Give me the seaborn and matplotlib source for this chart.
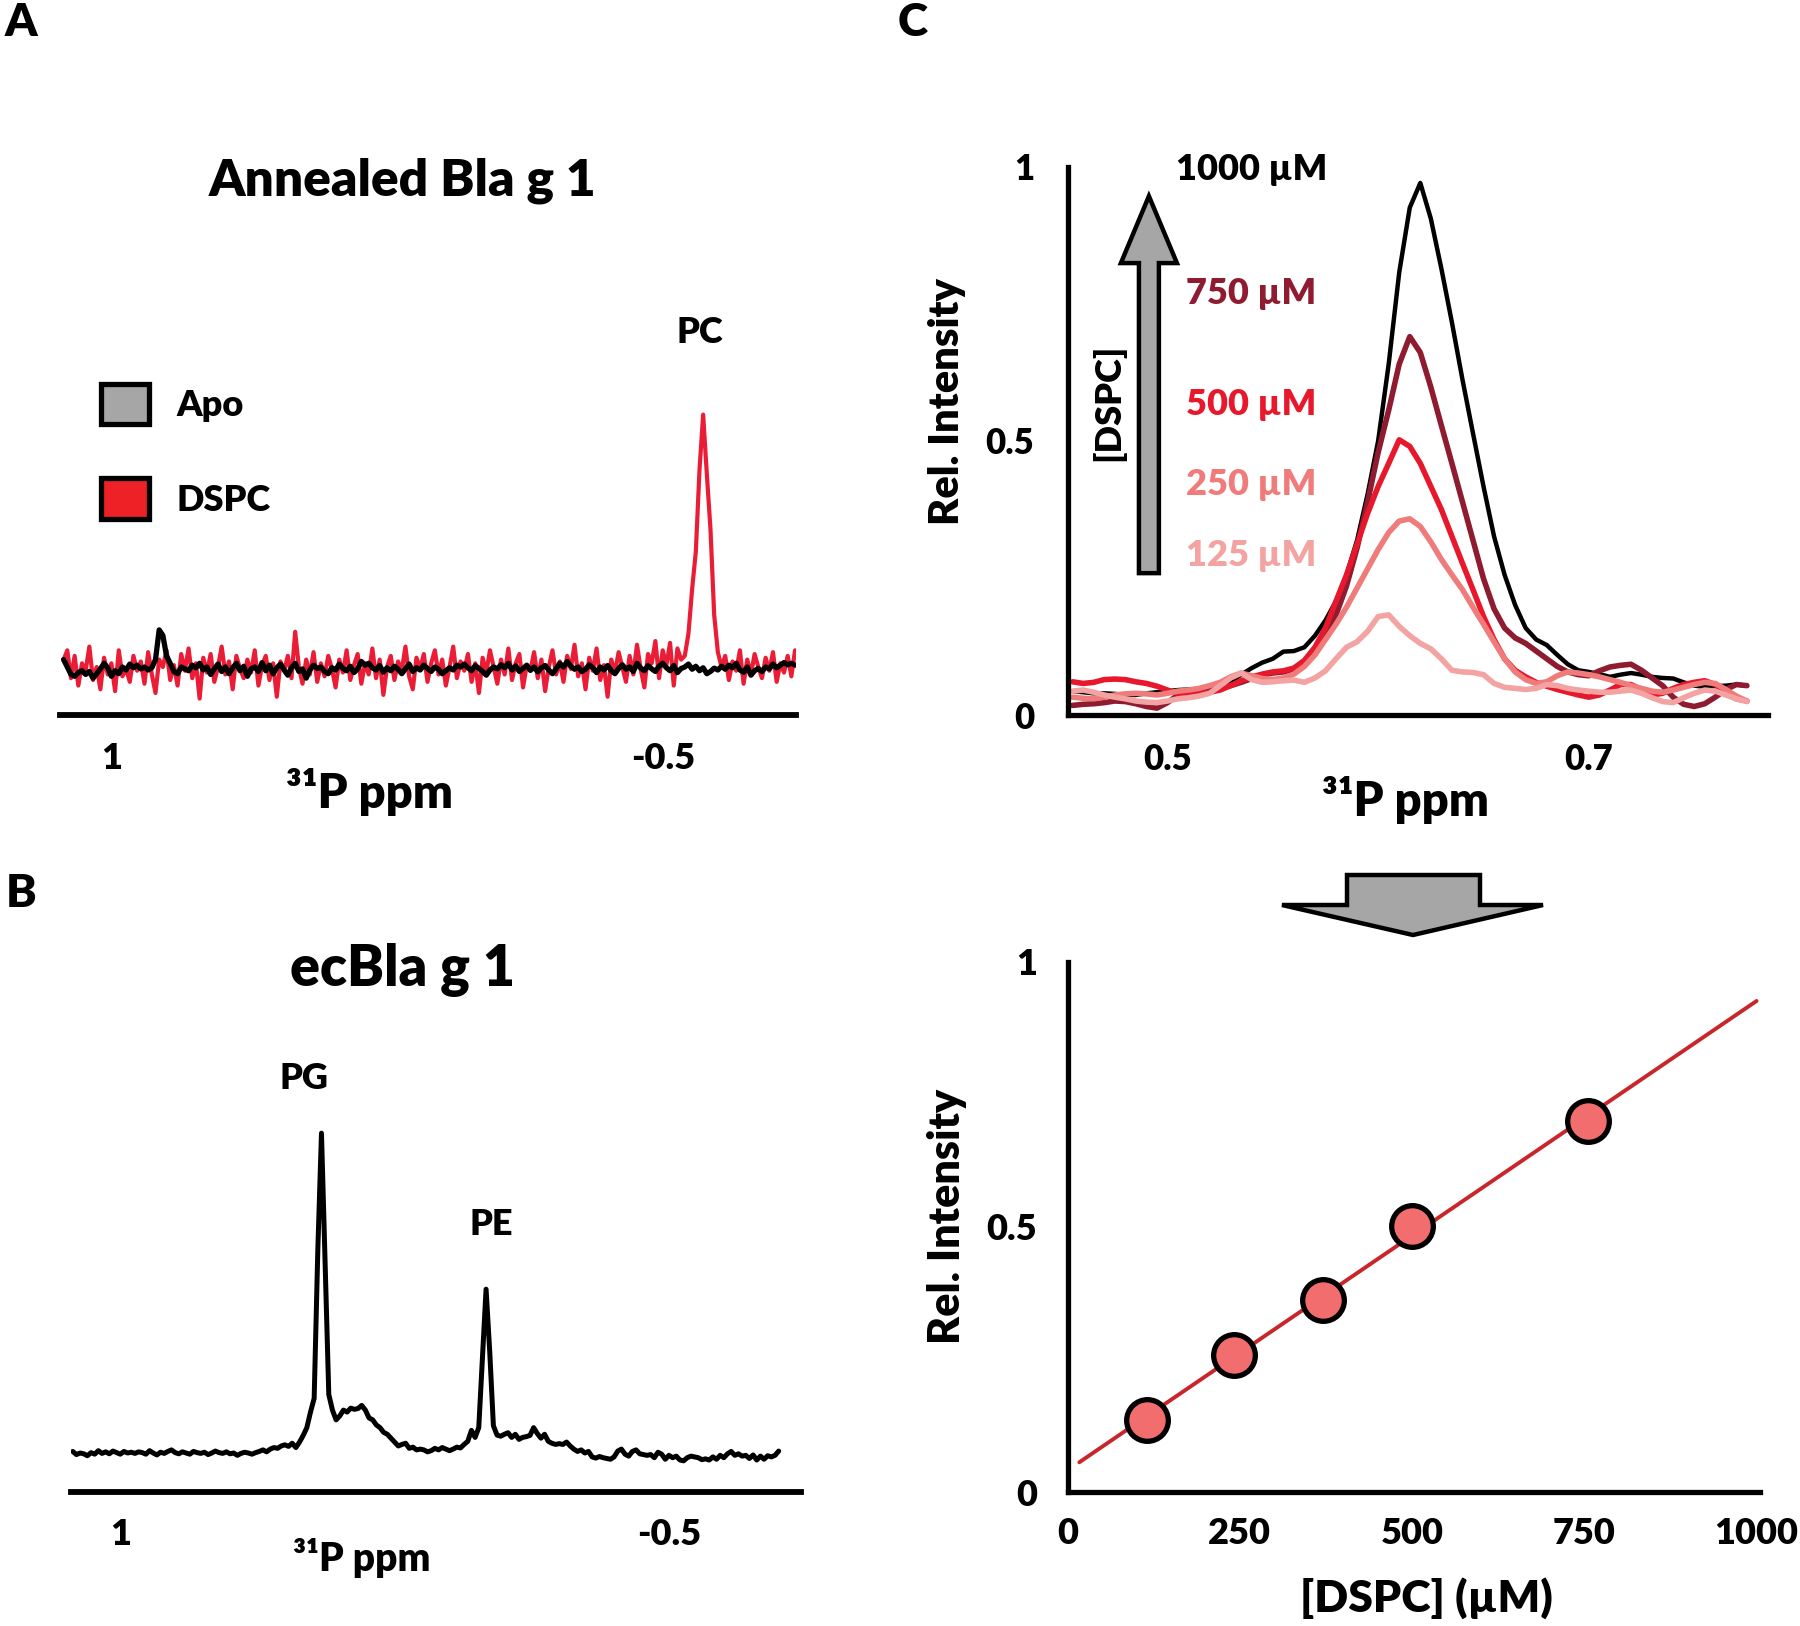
import numpy as np
import matplotlib
matplotlib.use('Agg')
import matplotlib.pyplot as plt
from matplotlib.patches import Patch, Polygon
import seaborn as sns

# ---------------- Panel A: Annealed Bla g 1 (31P, 1.13 -> -0.86 ppm, step 0.01)
apo_a = [
    0.150, 0.130, 0.110, 0.105, 0.115, 0.120, 0.110, 0.118, 0.100, 0.112,
    0.125, 0.140, 0.128, 0.105, 0.120, 0.112, 0.130, 0.122, 0.138, 0.128,
    0.135, 0.125, 0.130, 0.122, 0.128, 0.150, 0.230, 0.215, 0.160, 0.140,
    0.118, 0.112, 0.130, 0.125, 0.120, 0.135, 0.128, 0.140, 0.122, 0.130,
    0.110, 0.125, 0.138, 0.118, 0.130, 0.112, 0.128, 0.140, 0.120, 0.132,
    0.105, 0.125, 0.130, 0.118, 0.142, 0.120, 0.135, 0.112, 0.128, 0.138,
    0.122, 0.108, 0.128, 0.140, 0.118, 0.125, 0.100, 0.122, 0.135, 0.126,
    0.130, 0.118, 0.112, 0.128, 0.122, 0.138, 0.126, 0.120, 0.132, 0.115,
    0.125, 0.145, 0.135, 0.140, 0.128, 0.122, 0.134, 0.116, 0.128, 0.120,
    0.132, 0.124, 0.112, 0.125, 0.138, 0.118, 0.128, 0.122, 0.135, 0.126,
    0.118, 0.130, 0.124, 0.112, 0.120, 0.128, 0.122, 0.135, 0.130, 0.138,
    0.128, 0.120, 0.134, 0.126, 0.118, 0.108, 0.122, 0.130, 0.125, 0.136,
    0.128, 0.140, 0.122, 0.133, 0.118, 0.126, 0.135, 0.121, 0.130, 0.117,
    0.128, 0.134, 0.122, 0.112, 0.125, 0.140, 0.130, 0.145, 0.132, 0.124,
    0.130, 0.118, 0.124, 0.136, 0.128, 0.115, 0.130, 0.122, 0.134, 0.120,
    0.112, 0.126, 0.136, 0.124, 0.130, 0.118, 0.140, 0.127, 0.120, 0.134,
    0.125, 0.118, 0.132, 0.140, 0.128, 0.120, 0.134, 0.115, 0.126, 0.130,
    0.138, 0.124, 0.132, 0.120, 0.128, 0.112, 0.118, 0.127, 0.122, 0.132,
    0.124, 0.135, 0.128, 0.140, 0.122, 0.116, 0.130, 0.108, 0.120, 0.126,
    0.118, 0.130, 0.125, 0.138, 0.128, 0.135, 0.142, 0.136, 0.140, 0.135,
]
dspc_a = [
    0.150, 0.175, 0.100, 0.160, 0.080, 0.140, 0.120, 0.185, 0.095, 0.130,
    0.070, 0.155, 0.110, 0.140, 0.065, 0.175, 0.105, 0.125, 0.090, 0.160,
    0.120, 0.145, 0.085, 0.170, 0.110, 0.060, 0.150, 0.130, 0.175, 0.095,
    0.135, 0.080, 0.165, 0.120, 0.180, 0.100, 0.140, 0.045, 0.155, 0.115,
    0.165, 0.090, 0.130, 0.185, 0.110, 0.145, 0.070, 0.160, 0.125, 0.100,
    0.150, 0.115, 0.175, 0.080, 0.135, 0.160, 0.095, 0.140, 0.050, 0.145,
    0.120, 0.160, 0.100, 0.225, 0.130, 0.085, 0.150, 0.110, 0.170, 0.090,
    0.140, 0.105, 0.160, 0.125, 0.075, 0.150, 0.115, 0.175, 0.095, 0.135,
    0.165, 0.085, 0.140, 0.110, 0.180, 0.100, 0.150, 0.055, 0.130, 0.160,
    0.095, 0.145, 0.120, 0.185, 0.105, 0.070, 0.155, 0.125, 0.165, 0.090,
    0.140, 0.175, 0.110, 0.150, 0.080, 0.130, 0.185, 0.100, 0.145, 0.120,
    0.165, 0.090, 0.140, 0.060, 0.155, 0.115, 0.175, 0.130, 0.085, 0.150,
    0.110, 0.180, 0.095, 0.140, 0.165, 0.075, 0.135, 0.120, 0.170, 0.100,
    0.150, 0.065, 0.130, 0.175, 0.110, 0.145, 0.090, 0.160, 0.125, 0.190,
    0.105, 0.140, 0.070, 0.155, 0.120, 0.180, 0.095, 0.135, 0.050, 0.150,
    0.115, 0.170, 0.130, 0.090, 0.160, 0.110, 0.190, 0.125, 0.075, 0.165,
    0.140, 0.200, 0.100, 0.175, 0.135, 0.195, 0.080, 0.180, 0.150, 0.160,
    0.220, 0.340, 0.440, 0.660, 0.810, 0.650, 0.500, 0.270, 0.170, 0.130,
    0.160, 0.095, 0.145, 0.120, 0.175, 0.085, 0.150, 0.110, 0.165, 0.130,
    0.100, 0.155, 0.120, 0.170, 0.090, 0.140, 0.115, 0.160, 0.105, 0.175,
]

# ---------------- Panel B: ecBla g 1 (1.13 -> -0.80 ppm, step 0.01)
ecbla_b = [
    0.104, 0.096, 0.100, 0.098, 0.093, 0.101, 0.097, 0.106, 0.099, 0.103,
    0.098, 0.105, 0.101, 0.097, 0.104, 0.100, 0.102, 0.099, 0.103, 0.101,
    0.097, 0.106, 0.100, 0.095, 0.102, 0.099, 0.104, 0.108, 0.101, 0.098,
    0.103, 0.100, 0.097, 0.104, 0.101, 0.099, 0.102, 0.096, 0.100, 0.105,
    0.101, 0.099, 0.103, 0.098, 0.100, 0.094, 0.099, 0.102, 0.100, 0.097,
    0.101, 0.104, 0.108, 0.103, 0.110, 0.114, 0.112, 0.118, 0.121, 0.117,
    0.125, 0.114, 0.128, 0.145, 0.165, 0.205, 0.240, 0.620, 0.920, 0.580,
    0.250, 0.210, 0.185, 0.195, 0.210, 0.205, 0.215, 0.212, 0.214, 0.222,
    0.210, 0.190, 0.185, 0.172, 0.165, 0.153, 0.148, 0.138, 0.128, 0.118,
    0.122, 0.125, 0.112, 0.115, 0.108, 0.110, 0.108, 0.103, 0.106, 0.112,
    0.108, 0.114, 0.110, 0.106, 0.110, 0.115, 0.113, 0.122, 0.130, 0.158,
    0.140, 0.165, 0.340, 0.520, 0.360, 0.170, 0.146, 0.143, 0.148, 0.152,
    0.140, 0.148, 0.135, 0.140, 0.142, 0.145, 0.165, 0.150, 0.138, 0.148,
    0.130, 0.125, 0.122, 0.124, 0.122, 0.128, 0.118, 0.110, 0.104, 0.108,
    0.100, 0.104, 0.090, 0.087, 0.091, 0.088, 0.086, 0.084, 0.090, 0.105,
    0.110, 0.097, 0.092, 0.104, 0.108, 0.098, 0.096, 0.094, 0.096, 0.088,
    0.102, 0.097, 0.084, 0.094, 0.088, 0.092, 0.082, 0.080, 0.088, 0.092,
    0.090, 0.088, 0.083, 0.085, 0.082, 0.090, 0.084, 0.094, 0.088, 0.098,
    0.104, 0.094, 0.098, 0.092, 0.094, 0.086, 0.095, 0.082, 0.092, 0.084,
    0.093, 0.090, 0.094, 0.105,
]

# ---------------- Panel C (top): DSPC titration, 0.455 -> 0.775 ppm, step 0.005
conc_labels = ['1000 µM', '750 µM', '500 µM', '250 µM', '125 µM']
conc_colors = ['#000000', '#8E1B2F', '#E8182C', '#EF7B7B', '#F4A3A3']
spec_1000 = [
    0.044, 0.042, 0.040, 0.040, 0.039, 0.037, 0.037, 0.040, 0.042, 0.044,
    0.046, 0.047, 0.047, 0.051, 0.054, 0.061, 0.074, 0.086, 0.096, 0.103,
    0.116, 0.117, 0.124, 0.145, 0.173, 0.208, 0.256, 0.319, 0.403, 0.500,
    0.640, 0.807, 0.925, 0.970, 0.905, 0.814, 0.716, 0.612, 0.514, 0.417,
    0.326, 0.256, 0.201, 0.159, 0.138, 0.128, 0.110, 0.093, 0.082, 0.079,
    0.075, 0.070, 0.074, 0.077, 0.074, 0.070, 0.068, 0.067, 0.060, 0.054,
    0.052, 0.053, 0.054, 0.056, 0.054,
]
spec_750 = [
    0.018, 0.020, 0.021, 0.023, 0.026, 0.025, 0.021, 0.016, 0.013, 0.023,
    0.037, 0.042, 0.044, 0.046, 0.049, 0.054, 0.060, 0.067, 0.074, 0.077,
    0.079, 0.084, 0.096, 0.117, 0.145, 0.183, 0.236, 0.305, 0.389, 0.479,
    0.556, 0.640, 0.690, 0.661, 0.598, 0.528, 0.459, 0.389, 0.319, 0.249,
    0.194, 0.159, 0.141, 0.131, 0.117, 0.103, 0.089, 0.079, 0.074, 0.072,
    0.081, 0.088, 0.091, 0.093, 0.082, 0.068, 0.054, 0.033, 0.020, 0.016,
    0.021, 0.033, 0.047, 0.056, 0.054,
]
spec_500 = [
    0.061, 0.058, 0.060, 0.065, 0.066, 0.065, 0.061, 0.058, 0.053, 0.046,
    0.040, 0.037, 0.039, 0.042, 0.046, 0.054, 0.063, 0.070, 0.075, 0.079,
    0.081, 0.086, 0.100, 0.124, 0.159, 0.208, 0.256, 0.312, 0.368, 0.417,
    0.459, 0.502, 0.490, 0.459, 0.417, 0.375, 0.326, 0.277, 0.229, 0.180,
    0.138, 0.103, 0.082, 0.070, 0.060, 0.053, 0.047, 0.042, 0.037, 0.033,
    0.037, 0.046, 0.056, 0.056, 0.047, 0.037, 0.040, 0.049, 0.056, 0.060,
    0.063, 0.056, 0.040, 0.030, 0.026,
]
spec_250 = [
    0.033, 0.031, 0.030, 0.033, 0.037, 0.039, 0.040, 0.039, 0.037, 0.040,
    0.044, 0.046, 0.049, 0.054, 0.060, 0.070, 0.077, 0.072, 0.067, 0.065,
    0.068, 0.075, 0.089, 0.110, 0.138, 0.166, 0.197, 0.232, 0.267, 0.302,
    0.333, 0.354, 0.358, 0.344, 0.316, 0.284, 0.256, 0.229, 0.197, 0.166,
    0.134, 0.103, 0.079, 0.065, 0.058, 0.061, 0.072, 0.079, 0.077, 0.074,
    0.070, 0.065, 0.060, 0.054, 0.049, 0.044, 0.042, 0.046, 0.051, 0.056,
    0.060, 0.058, 0.047, 0.035, 0.026,
]
spec_125 = [
    0.044, 0.046, 0.042, 0.037, 0.033, 0.030, 0.026, 0.024, 0.023, 0.026,
    0.030, 0.032, 0.035, 0.040, 0.054, 0.068, 0.077, 0.065, 0.060, 0.061,
    0.063, 0.064, 0.060, 0.068, 0.081, 0.103, 0.124, 0.134, 0.153, 0.180,
    0.183, 0.162, 0.145, 0.131, 0.121, 0.103, 0.082, 0.079, 0.078, 0.074,
    0.058, 0.051, 0.049, 0.047, 0.049, 0.056, 0.054, 0.049, 0.046, 0.044,
    0.042, 0.042, 0.044, 0.046, 0.040, 0.032, 0.025, 0.023, 0.032, 0.040,
    0.046, 0.044, 0.037, 0.030, 0.025,
]
label_y = [0.994, 0.768, 0.567, 0.421, 0.291]

# ---------------- Panel C (bottom): intensity vs [DSPC]
dspc_um = [115, 242, 370, 500, 755]
rel_int = [0.136, 0.259, 0.363, 0.502, 0.700]

# sampling grids of the spectra
ppm_a = np.linspace(1.13, -0.86, len(dspc_a))
ppm_b = np.linspace(1.13, -0.80, len(ecbla_b))
ppm_c = np.linspace(0.455, 0.775, len(spec_1000))

sns.set_theme(style='white')
plt.rcParams['font.family'] = ['Lato', 'DejaVu Sans']
plt.rcParams['font.weight'] = 'heavy'
plt.rcParams['axes.labelweight'] = 'heavy'
plt.rcParams['axes.unicode_minus'] = False
for key in ['text.color', 'axes.labelcolor', 'xtick.color', 'ytick.color']:
    plt.rcParams[key] = 'black'

W, H = 1800, 1626
fig = plt.figure(figsize=(W / 100, H / 100), dpi=100)


def fx(px):
    return px / W


def fy(py):
    return 1 - py / H


def spectrum_axis(ax, lw):
    for s in ['left', 'right', 'top']:
        ax.spines[s].set_visible(False)
    ax.spines['bottom'].set_linewidth(lw)
    ax.spines['bottom'].set_color('black')
    ax.set_yticks([])
    ax.set_ylabel('')
    ax.tick_params(axis='x', length=0, labelsize=26, pad=19)


# ---- A
ax_a = fig.add_axes([0.0333, 0.5601, 0.4089, 0.2283])
sns.lineplot(x=ppm_a, y=dspc_a, ax=ax_a, color='#EB1D36', linewidth=3.0)
sns.lineplot(x=ppm_a, y=apo_a, ax=ax_a, color='black', linewidth=3.8)
ax_a.set_xlim(1.14, -0.8625)
ax_a.set_ylim(0, 1)
spectrum_axis(ax_a, 4.2)
ax_a.set_xticks([1, -0.5])
ax_a.set_xticklabels(['1', '-0.5'])
ax_a.set_xlabel('³¹P ppm', fontsize=34)
ax_a.xaxis.set_label_coords(0.421, -0.207)
ax_a.xaxis.label.set_va('center')
ax_a.text(-0.6015, 1.031, 'PC', fontsize=26, ha='center', va='center')
ax_a.legend(handles=[Patch(facecolor='#A6A6A6', edgecolor='black', linewidth=3.8, label='Apo'),
                     Patch(facecolor='#EE2126', edgecolor='black', linewidth=3.8, label='DSPC')],
            loc='upper left', bbox_to_anchor=(0.0553, 0.893), frameon=False, fontsize=26,
            handlelength=1.35, handleheight=1.35, handletextpad=0.75, labelspacing=1.5,
            borderpad=0, borderaxespad=0)

# ---- B
ax_b = fig.add_axes([0.0394, 0.0824, 0.4056, 0.2399])
sns.lineplot(x=ppm_b, y=ecbla_b, ax=ax_b, color='black', linewidth=3.6)
ax_b.set_xlim(1.135, -0.861)
ax_b.set_ylim(0, 1)
spectrum_axis(ax_b, 4.2)
ax_b.set_xticks([1, -0.5])
ax_b.set_xticklabels(['1', '-0.5'])
ax_b.set_xlabel('³¹P ppm', fontsize=28)
ax_b.xaxis.set_label_coords(0.399, -0.169)
ax_b.xaxis.label.set_va('center')
ax_b.text(0.498, 1.059, 'PG', fontsize=26, ha='center', va='center')
ax_b.text(-0.013, 0.685, 'PE', fontsize=26, ha='center', va='center')

# ---- C top
ax_c = fig.add_axes([0.5931, 0.5601, 0.3891, 0.3375])
spectra = [spec_1000, spec_750, spec_500, spec_250, spec_125]
for vals, col in zip(spectra, conc_colors):
    sns.lineplot(x=ppm_c, y=vals, ax=ax_c, color=col,
                 linewidth=3.2 if col == '#000000' else 4.0)
ax_c.set_xlim(0.4526, 0.785)
ax_c.set_ylim(0, 1)
for s in ['right', 'top']:
    ax_c.spines[s].set_visible(False)
for s in ['left', 'bottom']:
    ax_c.spines[s].set_linewidth(3.8)
    ax_c.spines[s].set_color('black')
ax_c.set_xticks([0.5, 0.7])
ax_c.set_xticklabels(['0.5', '0.7'])
ax_c.set_yticks([0, 0.5, 1])
ax_c.set_yticklabels(['0', '0.5', '1'])
ax_c.tick_params(length=0, labelsize=25)
ax_c.tick_params(axis='x', pad=20)
ax_c.tick_params(axis='y', pad=24)
ax_c.set_xlabel('³¹P ppm', fontsize=34)
ax_c.xaxis.set_label_coords(0.483, -0.155)
ax_c.xaxis.label.set_va('center')
ax_c.set_ylabel('Rel. Intensity', fontsize=30)
ax_c.yaxis.set_label_coords(-0.172, 0.571)
ax_c.yaxis.label.set_va('center')
for lab, col, yv in zip(conc_labels, conc_colors, label_y):
    ax_c.text(0.5398, yv, lab, color=col, fontsize=26, ha='center', va='center')
ax_c.text(0.4717, 0.571, '[DSPC]', fontsize=26, rotation=90, ha='center', va='center')
cx, sw, hw = 0.4912, 0.00474, 0.0133
yb, yh, yt = 0.259, 0.824, 0.946
ax_c.add_patch(Polygon([(cx - sw, yb), (cx + sw, yb), (cx + sw, yh), (cx + hw, yh),
                        (cx, yt), (cx - hw, yh), (cx - sw, yh)], closed=True,
                       facecolor='#A6A6A6', edgecolor='black', linewidth=3.2, zorder=4))

# ---- arrow between the two C panels
down = [(1347, 875), (1480, 875), (1480, 905), (1543, 905), (1413, 935), (1282, 905), (1347, 905)]
fig.add_artist(Polygon([(fx(x), fy(y)) for x, y in down], closed=True, transform=fig.transFigure,
                       facecolor='#A6A6A6', edgecolor='black', linewidth=3.2))

# ---- C bottom
ax_d = fig.add_axes([0.5931, 0.0824, 0.3847, 0.3260])
ax_d.set_xlim(17, 1000)
sns.regplot(x=dspc_um, y=rel_int, ax=ax_d, scatter=False, ci=None, truncate=False,
            line_kws=dict(color='#C8262B', linewidth=2.8))
sns.scatterplot(x=dspc_um, y=rel_int, ax=ax_d, s=900, color='#F26D6D',
                edgecolor='black', linewidth=3.8, zorder=3)
ax_d.set_xlim(0, 1005)
ax_d.set_ylim(0, 1)
for s in ['right', 'top']:
    ax_d.spines[s].set_visible(False)
for s in ['left', 'bottom']:
    ax_d.spines[s].set_linewidth(3.8)
    ax_d.spines[s].set_color('black')
ax_d.set_xticks([0, 250, 500, 750, 1000])
ax_d.set_xticklabels(['0', '250', '500', '750', '1000'])
ax_d.set_yticks([0, 0.5, 1])
ax_d.set_yticklabels(['0', '0.5', '1'])
ax_d.tick_params(length=0, labelsize=26)
ax_d.tick_params(axis='x', pad=18)
ax_d.tick_params(axis='y', pad=22)
ax_d.set_xlabel('[DSPC] (µM)', fontsize=32)
ax_d.xaxis.set_label_coords(0.518, -0.2)
ax_d.xaxis.label.set_va('center')
ax_d.set_ylabel('Rel. Intensity', fontsize=31)
ax_d.yaxis.set_label_coords(-0.174, 0.519)
ax_d.yaxis.label.set_va('center')

# ---- titles and panel letters
fig.text(fx(402), fy(181), 'Annealed Bla g 1', fontsize=37, ha='center', va='center')
fig.text(fx(402), fy(970), 'ecBla g 1', fontsize=40, ha='center', va='center')
for letter, (px, py) in zip('ABC', [(21, 23), (21, 893), (913, 23)]):
    fig.text(fx(px), fy(py), letter, fontsize=33, ha='center', va='center')

fig.savefig('out.png', dpi=100, facecolor='white')
